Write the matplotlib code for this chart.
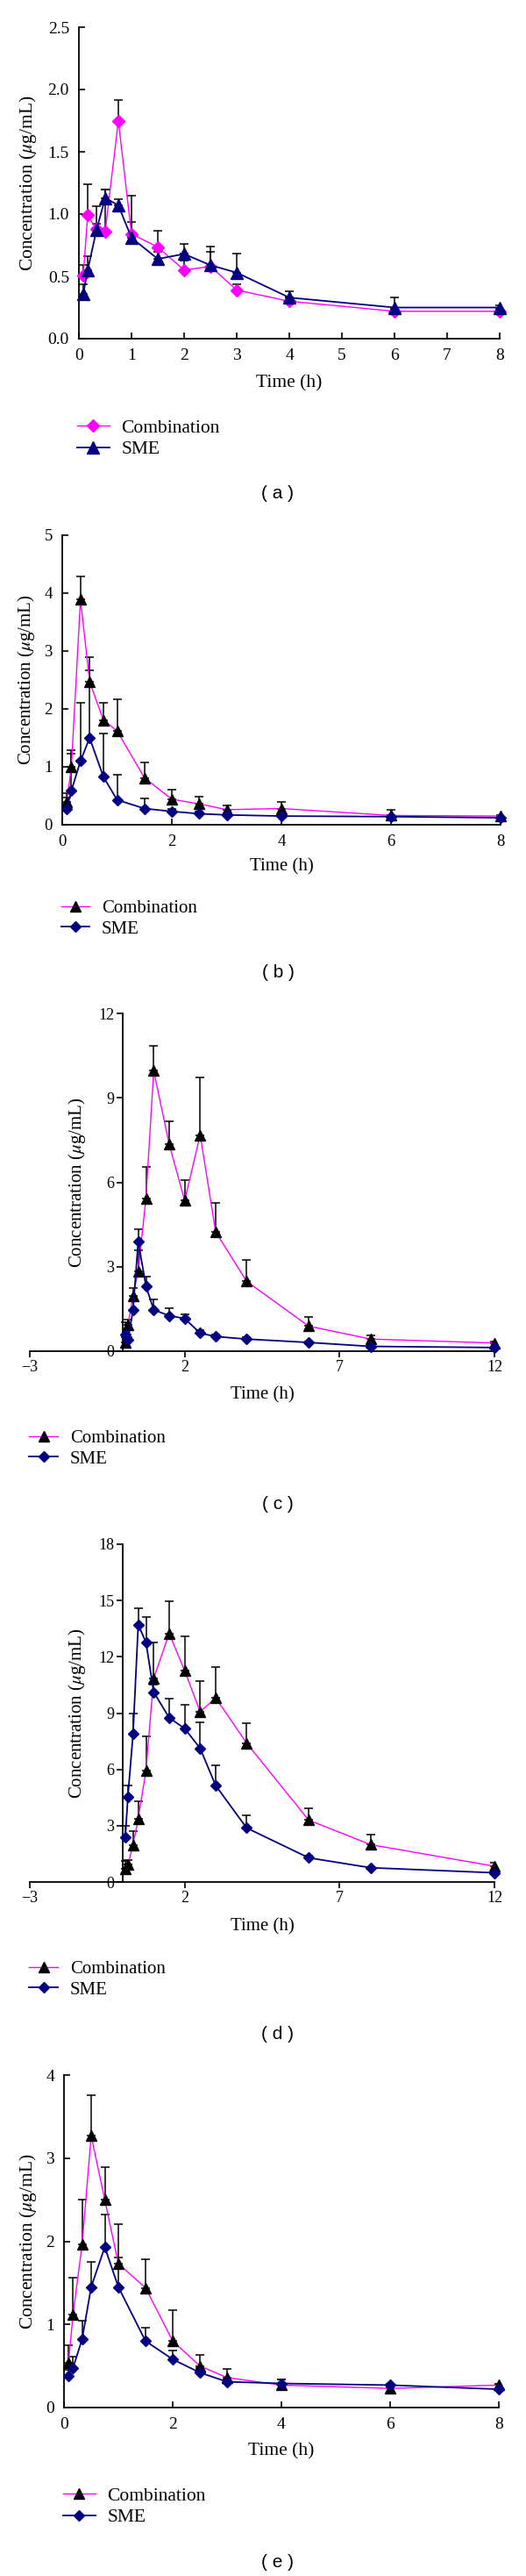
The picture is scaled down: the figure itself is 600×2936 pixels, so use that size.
import numpy as np
import matplotlib
matplotlib.use('Agg')
import matplotlib.pyplot as plt

plt.rcParams['font.family'] = ['Liberation Serif', 'DejaVu Serif']
plt.rcParams['mathtext.fontset'] = 'stix'

MAGENTA = '#ff00ff'
NAVY = '#000080'

# sampling times (h)
t8 = [0.083, 0.167, 0.333, 0.5, 0.75, 1, 1.5, 2, 2.5, 3, 4, 6, 8]
t12 = [0.083, 0.167, 0.333, 0.5, 0.75, 1, 1.5, 2, 2.5, 3, 4, 6, 8, 12]

# (a)
a_comb = [0.51, 0.99, 0.88, 0.86, 1.75, 0.84, 0.735, 0.55, 0.58, 0.39, 0.30, 0.22, 0.22]
a_comb_err = [0.08, 0.25, 0.18, 0.34, 0.165, 0.31, 0.13, 0.08, 0.12, 0.05, 0.03, 0.02, 0.01]
a_sme = [0.36, 0.55, 0.87, 1.13, 1.07, 0.81, 0.64, 0.68, 0.59, 0.53, 0.33, 0.25, 0.25]
a_sme_err = [0.08, 0.11, 0.05, 0.07, 0.05, 0.13, 0.06, 0.08, 0.15, 0.15, 0.05, 0.08, 0.02]

# (b)
b_comb = [0.40, 1.00, 3.89, 2.47, 1.81, 1.62, 0.81, 0.44, 0.36, 0.26, 0.28, 0.16, 0.15]
b_comb_err = [0.15, 0.29, 0.40, 0.42, 0.30, 0.54, 0.27, 0.16, 0.13, 0.07, 0.11, 0.10, 0.02]
b_sme = [0.28, 0.59, 1.10, 1.50, 0.83, 0.43, 0.28, 0.23, 0.19, 0.17, 0.15, 0.14, 0.12]
b_sme_err = [0.19, 0.63, 1.00, 1.16, 0.74, 0.43, 0.18, 0.05, 0.03, 0.03, 0.03, 0.02, 0.02]

# (c)
c_comb = [0.31, 0.93, 1.97, 2.85, 5.43, 9.96, 7.35, 5.35, 7.68, 4.24, 2.48, 0.89, 0.43, 0.29]
c_comb_err = [0.2, 0.18, 0.28, 0.72, 1.11, 0.89, 0.83, 0.74, 2.03, 1.02, 0.76, 0.33, 0.12, 0.04]
c_sme = [0.59, 0.39, 1.47, 3.90, 2.31, 1.47, 1.26, 1.16, 0.64, 0.52, 0.43, 0.31, 0.17, 0.13]
c_sme_err = [0.45, 0.1, 0.3, 0.42, 0.33, 0.37, 0.26, 0.14, 0.11, 0.08, 0.07, 0.04, 0.03, 0.02]

# (d)
d_comb = [0.70, 0.93, 1.98, 3.38, 5.92, 10.86, 13.24, 11.25, 9.07, 9.81, 7.40, 3.30, 1.99, 0.84]
d_comb_err = [0.42, 0.22, 0.75, 0.90, 1.84, 1.91, 1.71, 1.83, 1.63, 1.64, 1.06, 0.63, 0.52, 0.18]
d_sme = [2.37, 4.55, 7.90, 13.71, 12.77, 10.12, 8.75, 8.18, 7.12, 5.14, 2.88, 1.29, 0.76, 0.49]
d_sme_err = [0.63, 0.59, 1.09, 0.88, 1.36, 0.4, 1.03, 1.27, 1.37, 1.07, 0.66, 0.1, 0.05, 0.05]

# (e)
e_comb = [0.54, 1.12, 1.96, 3.27, 2.50, 1.73, 1.44, 0.80, 0.50, 0.36, 0.27, 0.23, 0.27]
e_comb_err = [0.21, 0.44, 0.54, 0.49, 0.39, 0.48, 0.34, 0.37, 0.13, 0.10, 0.07, 0.02, 0.02]
e_sme = [0.38, 0.48, 0.82, 1.45, 1.93, 1.45, 0.80, 0.58, 0.42, 0.31, 0.29, 0.27, 0.22]
e_sme_err = [0.07, 0.13, 0.23, 0.30, 0.39, 0.36, 0.16, 0.11, 0.05, 0.03, 0.05, 0.01, 0.01]

W, H = 600, 2936
fig = plt.figure(figsize=(W / 100, H / 100), dpi=100)


def fx(x):
    return x / W


def fy(y):
    return 1 - y / H


def draw_panel(box, t, comb, comb_err, sme, sme_err, first, xlim, xticks, ylim, yticks,
               yfmt, tick_fs, lab_fs, xlab_y, ylab_x, leg, tag, tag_y, centered=False):
    left, top, right, bottom = box
    ax = fig.add_axes([fx(left), fy(bottom), (right - left) / W, (bottom - top) / H])
    ax.set_xlim(xlim)
    ax.set_ylim(ylim)

    if first:
        c_style = dict(color=MAGENTA, marker='D', mfc=MAGENTA, mec=MAGENTA, ms=7, lw=1.0)
        s_style = dict(color=NAVY, marker='^', mfc=NAVY, mec=NAVY, ms=10, lw=1.3)
    else:
        c_style = dict(color=MAGENTA, marker='^', mfc='black', mec='black', ms=9, lw=1.0)
        s_style = dict(color=NAVY, marker='D', mfc=NAVY, mec=NAVY, ms=6.5, lw=1.3)

    # upper error bars only
    ax.errorbar(t, comb, yerr=[np.zeros(len(comb)), comb_err], fmt='none', ecolor='black',
                elinewidth=1.1, capsize=3.8, capthick=1.1, zorder=2)
    ax.errorbar(t, sme, yerr=[np.zeros(len(sme)), sme_err], fmt='none', ecolor='black',
                elinewidth=1.1, capsize=3.8, capthick=1.1, zorder=2)
    h1, = ax.plot(t, comb, zorder=3, clip_on=False, **c_style)
    h2, = ax.plot(t, sme, zorder=4, clip_on=False, **s_style)

    for s in ['top', 'right']:
        ax.spines[s].set_visible(False)
    for s in ['left', 'bottom']:
        ax.spines[s].set_linewidth(1.3)
    ax.set_xticks(xticks)
    ax.set_yticks(yticks)
    ax.set_yticklabels([yfmt.format(v) for v in yticks])
    if centered:
        ax.spines['left'].set_position(('data', 0))
        ax.tick_params(direction='out', length=5, width=1.2, labelsize=tick_fs, pad=2)
    else:
        ax.tick_params(direction='in', length=5, width=1.2, labelsize=tick_fs, pad=8)

    cx = (left + right) / 2
    fig.text(fx(cx), fy(xlab_y), 'Time (h)', ha='center', va='center', fontsize=lab_fs)
    fig.text(fx(ylab_x), fy((top + bottom) / 2), 'Concentration ($\\mu$g/mL)', rotation=90,
             ha='center', va='center', fontsize=lab_fs)

    lx, ly, hl = leg
    ax.legend([h1, h2], ['Combination', 'SME'], loc='center left',
              bbox_to_anchor=(fx(lx), fy(ly)), bbox_transform=fig.transFigure,
              frameon=False, borderpad=0, borderaxespad=0, handlelength=hl,
              handletextpad=0.65, labelspacing=0.2, fontsize=lab_fs, numpoints=1)

    fig.text(fx(317), fy(tag_y), '( %s )' % tag, ha='center', va='center', fontsize=15,
             family='Liberation Sans')
    return ax


draw_panel((90, 31, 570, 386), t8, a_comb, a_comb_err, a_sme, a_sme_err, True,
           (0, 8), range(0, 9), (0, 2.5), [0, 0.5, 1.0, 1.5, 2.0, 2.5], '{:.1f}',
           14, 15.5, 437, 32, (88, 500, 1.7), 'a', 563)

draw_panel((71, 610, 571, 940), t8, b_comb, b_comb_err, b_sme, b_sme_err, False,
           (0, 8), [0, 2, 4, 6, 8], (0, 5), [0, 1, 2, 3, 4, 5], '{:.0f}',
           13.5, 15, 988, 30, (70, 1047, 1.55), 'b', 1109)

draw_panel((34, 1155, 564, 1540), t12, c_comb, c_comb_err, c_sme, c_sme_err, False,
           (-3, 12), [-3, 2, 7, 12], (0, 12), [0, 3, 6, 9, 12], '{:.0f}',
           13, 15, 1590, 88, (33, 1651, 1.6), 'c', 1714, centered=True)

draw_panel((34, 1760, 564, 2145), t12, d_comb, d_comb_err, d_sme, d_sme_err, False,
           (-3, 12), [-3, 2, 7, 12], (0, 18), [0, 3, 6, 9, 12, 15, 18], '{:.0f}',
           13, 15, 2196, 88, (33, 2256, 1.6), 'd', 2319, centered=True)

draw_panel((73, 2365, 569, 2744), t8, e_comb, e_comb_err, e_sme, e_sme_err, False,
           (0, 8), [0, 2, 4, 6, 8], (0, 4), [0, 1, 2, 3, 4], '{:.0f}',
           14, 15.5, 2794, 32, (72, 2857, 1.7), 'e', 2920)

fig.savefig('out.png', dpi=100)
